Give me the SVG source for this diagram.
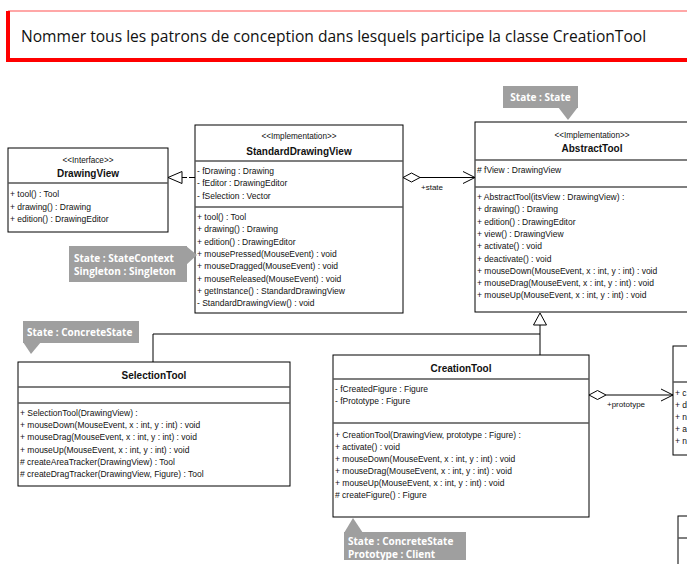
<svg xmlns="http://www.w3.org/2000/svg" width="687" height="564" viewBox="0 0 687 564">
<defs>
<style>
.box{fill:#fff;stroke:#000;stroke-width:1}
.sep{stroke:#555;stroke-width:1.3;fill:none}
.t{font-family:"Liberation Sans",Arial,sans-serif;font-size:8.5px;fill:#111}
.st{font-family:"Liberation Sans",Arial,sans-serif;font-size:8.2px;fill:#111;text-anchor:middle}
.nm{font-family:"Liberation Sans",Arial,sans-serif;font-size:10px;font-weight:bold;fill:#111;text-anchor:middle}
.note{fill:#9f9f9f}
.nt{font-family:"Open Sans","Noto Sans",sans-serif;font-size:10px;font-weight:bold;fill:#fff}
.ln{stroke:#000;stroke-width:1;fill:none}
.hd{font-family:"Open Sans","Noto Sans",sans-serif;font-size:15.6px;fill:#111}
</style>
</defs>
<rect width="687" height="564" fill="#fff"/>

<g id="header">
<line x1="8" y1="11" x2="700" y2="11" stroke="#ff8a8a" stroke-width="1.5"/>
<path d="M8,11 V60 H700" fill="none" stroke="#ff0000" stroke-width="4"/>
<text class="hd" x="21" y="42">Nommer tous les patrons de conception dans lesquels participe la classe CreationTool</text>
</g>

<g id="connectors">
<line class="ln" x1="195" y1="177.5" x2="182" y2="177.5" stroke-dasharray="6,2"/>
<polygon points="168,177.5 182,171.5 182,183.5" fill="#fff" stroke="#000"/>
<line class="ln" x1="420" y1="177.5" x2="475" y2="177.5"/>
<polygon points="403,177.5 411.5,173 420,177.5 411.5,182" fill="#fff" stroke="#000"/>
<polyline class="ln" points="463,171.5 475,177.5 463,183.5"/>
<text class="t" x="421" y="190" style="font-size:8px">+state</text>
<polyline class="ln" points="153,362 153,334 540,334"/>
<line class="ln" x1="540" y1="355" x2="540" y2="325"/>
<polygon points="540,313 533.5,325 546.5,325" fill="#fff" stroke="#000"/>
<line class="ln" x1="606" y1="395" x2="673" y2="395"/>
<polygon points="589,395 597.5,390.5 606,395 597.5,399.5" fill="#fff" stroke="#000"/>
<polyline class="ln" points="661,389 673,395 661,401"/>
<text class="t" x="607" y="407" style="font-size:8px">+prototype</text>
</g>

<g id="DrawingView">
<rect class="box" x="8" y="148" width="160" height="84"/>
<text class="st" x="88" y="162.5">&lt;&lt;Interface&gt;&gt;</text>
<text class="nm" x="88" y="176.5">DrawingView</text>
<line class="sep" x1="8" y1="183" x2="168" y2="183"/>
<text class="t" x="10" y="197">+ tool() : Tool</text>
<text class="t" x="10" y="209.5">+ drawing() : Drawing</text>
<text class="t" x="10" y="222">+ edition() : DrawingEditor</text>
</g>

<g id="StandardDrawingView">
<rect class="box" x="195" y="125" width="208" height="188"/>
<text class="st" x="299" y="138.5">&lt;&lt;Implementation&gt;&gt;</text>
<text class="nm" x="299" y="154.5">StandardDrawingView</text>
<line class="sep" x1="195" y1="161" x2="403" y2="161"/>
<text class="t" x="197" y="174">- fDrawing : Drawing</text>
<text class="t" x="197" y="186.3">- fEditor : DrawingEditor</text>
<text class="t" x="197" y="198.6">- fSelection : Vector</text>
<line class="sep" x1="195" y1="207" x2="403" y2="207"/>
<text class="t" x="197" y="220">+ tool() : Tool</text>
<text class="t" x="197" y="232.3">+ drawing() : Drawing</text>
<text class="t" x="197" y="244.6">+ edition() : DrawingEditor</text>
<text class="t" x="197" y="256.9">+ mousePressed(MouseEvent) : void</text>
<text class="t" x="197" y="269.2">+ mouseDragged(MouseEvent) : void</text>
<text class="t" x="197" y="281.5">+ mouseReleased(MouseEvent) : void</text>
<text class="t" x="197" y="293.8">+ getInstance() : StandardDrawingView</text>
<text class="t" x="197" y="306.1">- StandardDrawingView() : void</text>
</g>

<g id="AbstractTool">
<rect class="box" x="475" y="122" width="240" height="190"/>
<text class="st" x="592" y="138">&lt;&lt;Implementation&gt;&gt;</text>
<text class="nm" x="592" y="152">AbstractTool</text>
<line class="sep" x1="475" y1="160" x2="715" y2="160"/>
<text class="t" x="477" y="173">#  fView : DrawingView</text>
<line class="sep" x1="475" y1="187" x2="715" y2="187"/>
<text class="t" x="477" y="200">+ AbstractTool(itsView : DrawingView) :</text>
<text class="t" x="477" y="212.3">+ drawing() : Drawing</text>
<text class="t" x="477" y="224.6">+ edition() : DrawingEditor</text>
<text class="t" x="477" y="236.9">+ view() : DrawingView</text>
<text class="t" x="477" y="249.2">+ activate() : void</text>
<text class="t" x="477" y="261.5">+ deactivate() : void</text>
<text class="t" x="477" y="273.8">+ mouseDown(MouseEvent, x : int, y : int) : void</text>
<text class="t" x="477" y="286.1">+ mouseDrag(MouseEvent, x : int, y : int) : void</text>
<text class="t" x="477" y="298.4">+ mouseUp(MouseEvent, x : int, y : int) : void</text>
</g>

<g id="SelectionTool">
<rect class="box" x="18" y="362" width="272" height="124"/>
<text class="nm" x="154" y="379">SelectionTool</text>
<line class="sep" x1="18" y1="387" x2="290" y2="387"/>
<line class="sep" x1="18" y1="403" x2="290" y2="403"/>
<text class="t" x="20" y="416">+ SelectionTool(DrawingView) :</text>
<text class="t" x="20" y="428.2">+ mouseDown(MouseEvent, x : int, y : int) : void</text>
<text class="t" x="20" y="440.4">+ mouseDrag(MouseEvent, x : int, y : int) : void</text>
<text class="t" x="20" y="452.6">+ mouseUp(MouseEvent, x : int, y : int) : void</text>
<text class="t" x="20" y="464.8"># createAreaTracker(DrawingView) : Tool</text>
<text class="t" x="20" y="477"># createDragTracker(DrawingView, Figure) : Tool</text>
</g>

<g id="CreationTool">
<rect class="box" x="333" y="355" width="256" height="162"/>
<text class="nm" x="461" y="372">CreationTool</text>
<line class="sep" x1="333" y1="379" x2="589" y2="379"/>
<text class="t" x="335" y="392">- fCreatedFigure : Figure</text>
<text class="t" x="335" y="404">- fPrototype : Figure</text>
<line class="sep" x1="333" y1="423" x2="589" y2="423"/>
<text class="t" x="335" y="438">+ CreationTool(DrawingView, prototype : Figure) :</text>
<text class="t" x="335" y="450">+ activate() : void</text>
<text class="t" x="335" y="462">+ mouseDown(MouseEvent, x : int, y : int) : void</text>
<text class="t" x="335" y="474">+ mouseDrag(MouseEvent, x : int, y : int) : void</text>
<text class="t" x="335" y="486">+ mouseUp(MouseEvent, x : int, y : int) : void</text>
<text class="t" x="335" y="498"># createFigure() : Figure</text>
</g>

<g id="PartialRight">
<rect class="box" x="673" y="346" width="40" height="109"/>
<line class="sep" x1="673" y1="382" x2="713" y2="382"/>
<text class="t" x="675" y="396">+ c</text>
<text class="t" x="675" y="407.5">+ d</text>
<text class="t" x="675" y="419.5">+ n</text>
<text class="t" x="675" y="431.5">+ a</text>
<text class="t" x="675" y="444">+ n</text>
</g>

<g id="PartialBottomRight">
<rect class="box" x="678" y="516" width="40" height="60"/>
<line class="sep" x1="678" y1="538" x2="718" y2="538"/>
</g>

<g id="noteState">
<rect class="note" x="503" y="86" width="75" height="22"/>
<polygon class="note" points="558,107 578,107 568,120"/>
<text class="nt" x="540.5" y="101" text-anchor="middle">State : State</text>
</g>

<g id="noteStateContext">
<rect class="note" x="69" y="246" width="118" height="36"/>
<polygon class="note" points="186,246 197,255 186,265"/>
<text class="nt" x="74" y="262">State : StateContext</text>
<text class="nt" x="74" y="274.5">Singleton : Singleton</text>
</g>

<g id="noteSelection">
<rect class="note" x="23" y="321" width="116" height="22"/>
<polygon class="note" points="23,342 41,342 31,354"/>
<text class="nt" x="27" y="336">State : ConcreteState</text>
</g>

<g id="noteCreation">
<rect class="note" x="344" y="532" width="122" height="28"/>
<polygon class="note" points="344,533 363,533 353,518"/>
<text class="nt" x="348" y="545">State : ConcreteState</text>
<text class="nt" x="348" y="557.5">Prototype : Client</text>
</g>
</svg>
